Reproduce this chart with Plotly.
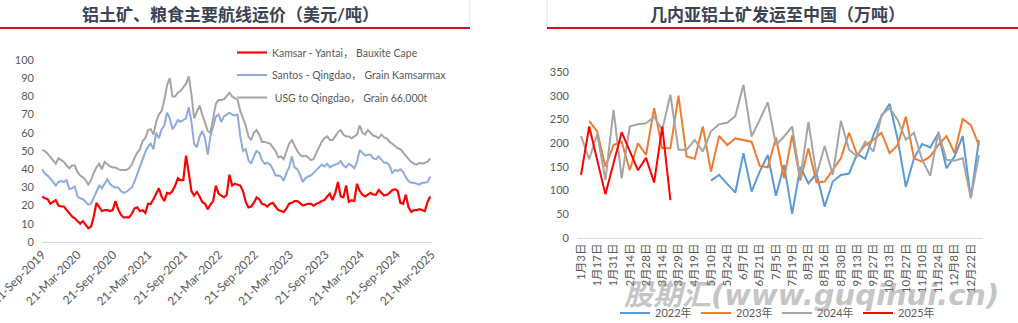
import plotly.graph_objects as go
import pandas as pd

# ---------------- Left chart data (biweekly, from 21-Sep-2019) ----------------
left_start = "2019-09-21"
kamsar_yantai = [25, 24, 23.5, 21, 22, 23, 20, 19.5, 19.5, 17.5, 15.5, 14, 13, 11.5, 10, 11.5, 9.5, 7.5, 8.5, 14,
                 21.5, 19, 17, 17.5, 17.5, 17, 17.5, 22.5, 18, 15, 13.5, 13.5, 13.5, 15.5, 18.5, 19, 17, 17.5, 16, 21,
                 21, 23.5, 27, 29.5, 25, 22.5, 27, 26.5, 28, 31, 35, 34, 34, 47.5, 38, 28, 25.5, 27.5, 25, 22,
                 21, 18, 20.5, 22.5, 31, 26.5, 25.5, 24.5, 26, 37, 31, 32, 31.5, 31, 28, 22, 19, 19.5, 21.5, 24.5,
                 23.5, 21, 20.5, 19.5, 21, 21.5, 19.5, 17.5, 17, 16.5, 18.5, 21, 21.5, 22.5, 22.5, 21.5, 20, 20.5, 21, 21,
                 20, 21, 21.5, 22.5, 23, 25, 26.5, 23, 27, 33, 25, 24.5, 31, 22, 23, 22.5, 32, 28, 26, 25,
                 26, 27, 26, 26, 28.5, 27, 25.5, 26, 27, 28.5, 29, 28, 21.5, 21, 26, 19, 16.5, 17.5, 17.5, 18,
                 17.5, 17, 22, 25]
santos_qingdao = [40, 37.5, 36.5, 35, 33, 31, 33, 33.5, 33, 34, 29, 29.5, 30.5, 25, 24, 23.5, 22, 20.5, 21, 24.5,
                  28, 31, 29.5, 32, 34.5, 32, 30.5, 30, 30, 28, 27, 27.5, 28.5, 30, 33, 37, 41, 46, 49.5, 52.5,
                  54, 51, 60, 57, 62, 64, 71, 68, 62, 64, 67, 66, 67, 68, 74, 66, 54, 52, 58, 61,
                  57, 48, 58, 63, 69, 70, 66, 69, 70, 71, 70, 69.5, 70, 58, 50, 51, 45, 43, 47, 50,
                  49, 45, 43, 43.5, 42.5, 40, 36.5, 36.5, 36, 33.5, 38, 41, 47, 41, 40, 37, 33, 35, 36, 36.5,
                  38, 39.5, 41.5, 42.5, 41.5, 43, 41, 42, 42.5, 43, 44.5, 42, 41, 43, 42, 40.5, 44, 50.5, 49, 47.5,
                  48, 48, 46, 45.5, 47, 45, 43.5, 43.5, 42, 38, 39.5, 39, 40, 38.5, 35.5, 33.5, 32.5, 32.5, 32, 31.5,
                  32.5, 32.5, 33, 36]
usg_qingdao = [50.5, 50, 48.5, 46.5, 44.5, 43, 46, 45, 44, 42, 40.5, 42, 42, 38.5, 36.5, 35.5, 34, 31.5, 34, 38,
               41, 43, 40, 44, 43, 41.5, 41, 41, 40, 39.5, 39.5, 39.5, 40.5, 42.5, 46, 49, 51, 55.5, 57, 61.5,
               62, 59, 66, 70, 72, 78, 86, 90, 80, 80, 82, 83, 85, 87, 91, 81, 68, 72, 75, 70,
               66, 61, 60, 68, 76, 78, 78, 78.5, 80, 82, 80, 79, 78, 72, 68, 64, 58, 56, 60, 61.5,
               59, 55, 55, 54.5, 54, 52, 50, 46.5, 47, 45.5, 50, 54, 56, 53, 50, 48, 47, 47.5, 46.5, 45,
               45.5, 49, 52, 55, 57, 58, 56, 56, 58, 60.5, 61.5, 59, 58, 58, 57, 58, 59, 64, 60, 59,
               61.5, 60, 58.5, 58, 57, 59, 57.5, 57, 55, 54, 52.5, 51.5, 51, 49, 47, 45.5, 44, 43, 42.5, 43.5,
               43, 43.5, 44, 46]
left_names = ["Kamsar - Yantai， Bauxite Cape", "Santos - Qingdao， Grain Kamsarmax", "\u00a0USG to Qingdao， Grain 66,000t"]

# ---------------- Right chart data ----------------
week_labels = ["1月3日", "1月10日", "1月17日", "1月24日", "1月31日", "2月7日", "2月14日", "2月21日", "2月28日", "3月7日",
               "3月14日", "3月22日", "3月29日", "4月12日", "4月19日", "5月3日", "5月10日", "5月17日", "5月24日", "5月31日",
               "6月7日", "6月14日", "6月21日", "6月28日", "7月5日", "7月12日", "7月19日", "7月26日", "8月2日", "8月9日",
               "8月16日", "8月23日", "8月30日", "9月6日", "9月13日", "9月20日", "9月27日", "10月6日", "10月13日", "10月20日",
               "10月27日", "11月3日", "11月10日", "11月17日", "11月24日", "12月1日", "12月8日", "12月15日", "12月22日", "12月29日"]
N = None
ship_2022 = [N, N, N, N, N, N, N, N, N, N, N, N, N, N, N, N,
             121, 133, 114, 96, 179, 98, 140, 175, 89, 154, 51, 150, 115, 136, 66, 119, 133, 136, 177, 167,
             217, 257, 283, 207, 108, 168, 198, 191, 221, 147, 172, 215, 84, 207]
ship_2023 = [N, 247, 224, 150, 196, 203, 143, 200, 175, 274, 189, 189, 300, 172, 167, 235, 140, 215, 196, 210,
             207, 203, 152, 149, 212, 126, 217, 121, 189, 117, 119, 143, 168, 222, 175, 196, 207, 222, 179, 196,
             256, 168, 161, 172, 196, 215, 179, 251, 238, 196]
ship_2024 = [215, 166, 219, 122, 270, 126, 235, 240, 242, 255, 228, 302, 186, 186, 207, 182, 225, 240, 243, 257,
             323, 214, 249, 286, 196, 214, 235, 126, 245, 133, 194, 133, 247, 186, 172, 203, 182, 259, 274, 249,
             207, 222, 165, 131, 224, 165, 163, 168, 84, 175]
ship_2025 = [133, 235, N, 92, N, 223, N, 143, 169, 117, 235, 80] + [N] * 38
right_names = ["2022年", "2023年", "2024年", "2025年"]

W, H = 1018, 323
def px(x):
    return x / W
def py(y):
    return 1 - y / H

FONT = "Lato, 'Noto Sans CJK SC', 'Noto Sans', sans-serif"
TICK = dict(family=FONT, size=11, color="#595959")

fig = go.Figure()

left_dates = pd.date_range(left_start, periods=len(kamsar_yantai), freq="14D")
left_series = [kamsar_yantai, santos_qingdao, usg_qingdao]
left_colors = ["#FF0000", "#8FAADC", "#A5A5A5"]
for i, (vals, name, col) in enumerate(zip(left_series, left_names, left_colors)):
    fig.add_trace(go.Scatter(x=left_dates, y=vals, name=name, mode="lines",
                             line=dict(color=col, width=2.2 if i == 0 else 2),
                             xaxis="x", yaxis="y", legend="legend", legendgroup=f"l{i}"))

right_series = [ship_2022, ship_2023, ship_2024, ship_2025]
right_colors = ["#5B9BD5", "#ED7D31", "#A5A5A5", "#FF0000"]
for vals, name, col in zip(right_series, right_names, right_colors):
    fig.add_trace(go.Scatter(x=week_labels, y=vals, name=name, mode="lines", connectgaps=True,
                             line=dict(color=col, width=2),
                             xaxis="x2", yaxis="y2", legend="legend2"))

fig.update_layout(
    width=W, height=H, margin=dict(l=0, r=0, t=0, b=0, autoexpand=False),
    paper_bgcolor="white", plot_bgcolor="white",
    font=dict(family=FONT, color="#595959"),
    showlegend=True,
    xaxis=dict(domain=[px(42), px(432)], type="date", range=["2019-09-20", "2025-03-24"],
               tick0="2019-09-21", dtick="M6", tickformat="%d-%b-%Y", tickangle=-45,
               showgrid=False, zeroline=False, showline=True, linecolor="#D9D9D9", linewidth=1,
               ticks="", tickfont=dict(family=FONT, size=12, color="#595959"), anchor="y", automargin=False,
               ticklabeloverflow="allow"),
    yaxis=dict(domain=[py(242), py(60)], range=[0, 100], dtick=10, showgrid=False, zeroline=False,
               showline=False, ticks="", tickfont=TICK, anchor="x", ticklabelstandoff=7, automargin=False),
    xaxis2=dict(domain=[px(577), px(983)], type="category", categoryorder="array", categoryarray=week_labels,
                range=[-0.5, len(week_labels) - 0.5], tickmode="array", tickvals=week_labels[::2],
                tickangle=-90, showgrid=False, zeroline=False, showline=True, linecolor="#D9D9D9",
                ticks="", tickfont=dict(family=FONT, size=11.5, color="#595959"), anchor="y2", automargin=False),
    yaxis2=dict(domain=[py(238), py(72)], range=[0, 350], dtick=50, showgrid=False, zeroline=False,
                showline=False, ticks="", tickfont=TICK, anchor="x2", ticklabelstandoff=7, automargin=False),
    legend=dict(x=px(232), y=py(38), xanchor="left", yanchor="top", bgcolor="rgba(0,0,0,0)",
                font=dict(family=FONT, size=10.5, color="#595959"), tracegroupgap=3.5,
                traceorder="grouped", itemwidth=30),
    legend2=dict(orientation="h", x=px(777), y=py(313), xanchor="center", yanchor="middle",
                 bgcolor="rgba(0,0,0,0)", font=dict(family=FONT, size=11, color="#595959"),
                 entrywidth=36, entrywidthmode="pixels"),
)

# titles
fig.add_annotation(text="<b>铝土矿、粮食主要航线运价（美元/吨）</b>", x=px(230), y=py(14), xref="paper", yref="paper",
                   showarrow=False, font=dict(family=FONT, size=17, color="#3B4452"), xanchor="center", yanchor="middle")
fig.add_annotation(text="<b>几内亚铝土矿发运至中国（万吨）</b>", x=px(777), y=py(14), xref="paper", yref="paper",
                   showarrow=False, font=dict(family=FONT, size=17, color="#3B4452"), xanchor="center", yanchor="middle")
# watermark
fig.add_annotation(text="股期汇(www.guqihui.cn)", x=px(1001), y=py(295), xref="paper", yref="paper",
                   showarrow=False, xanchor="right", yanchor="middle",
                   font=dict(family="'DejaVu Sans', 'Noto Sans CJK SC', sans-serif", size=29,
                             color="rgba(140,140,140,0.5)", weight="bold", style="italic"))

# title underlines and separators
fig.add_shape(type="line", xref="paper", yref="paper", x0=0, x1=px(470), y0=py(28), y1=py(28),
              line=dict(color="#D0101B", width=2))
fig.add_shape(type="line", xref="paper", yref="paper", x0=px(547), x1=1, y0=py(28), y1=py(28),
              line=dict(color="#D0101B", width=2))
fig.add_shape(type="line", xref="paper", yref="paper", x0=px(470), x1=px(470), y0=py(0), y1=py(27),
              line=dict(color="#F2DCDB", width=1))
fig.add_shape(type="line", xref="paper", yref="paper", x0=px(547), x1=px(547), y0=py(0), y1=py(27),
              line=dict(color="#F2DCDB", width=1))

fig.write_html("out.html")
